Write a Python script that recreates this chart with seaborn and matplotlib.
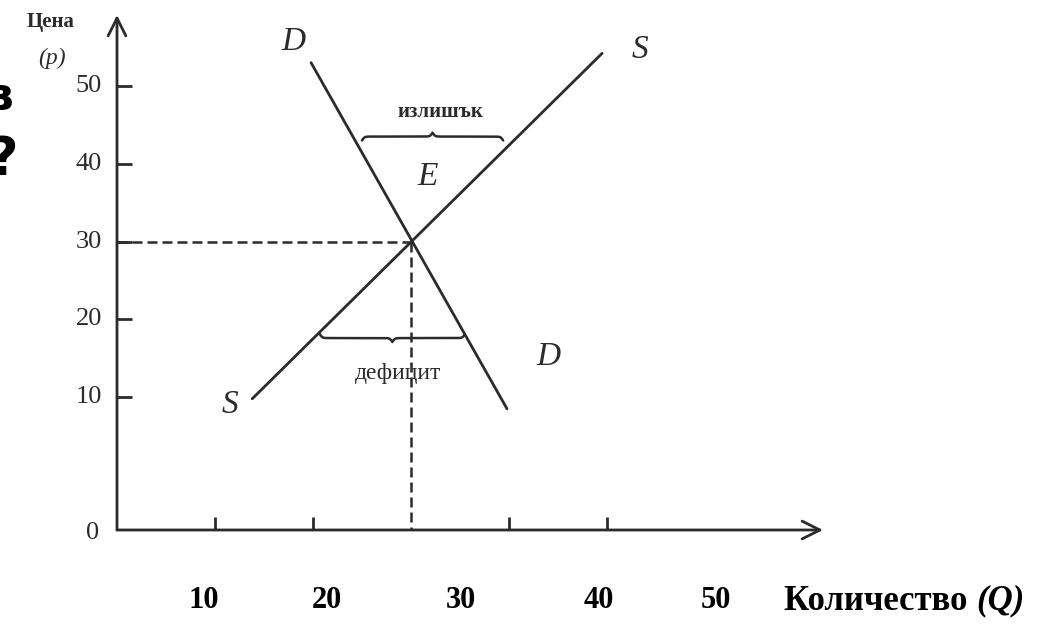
import numpy as np
import matplotlib
matplotlib.use("Agg")
import matplotlib.pyplot as plt
import seaborn as sns

# data (price p, quantity Q)
price_ticks = [10, 20, 30, 40, 50]
qty_ticks = [10, 20, 40, 50]
qty_labels = ["10", "20", "30", "40", "50"]
demand_q = [19.8, 39.8]
demand_p = [53.0, 8.5]
supply_q = [13.8, 49.5]
supply_p = [9.8, 54.2]
eq_q = 30
eq_p = 30
surplus_q = [25.0, 39.4]
surplus_p = 43.5
deficit_q = [20.7, 35.5]
deficit_p = 17.6

INK = "#2b2b2b"

# pixel <-> data mapping of the scanned picture
X0_PX, PX_PER_Q = 117, 9.8
Y0_PX, PX_PER_P = 475, 7.78
W, H = 1046, 635


def qx(px):
    return (px - X0_PX) / PX_PER_Q


def py(py_):
    return (Y0_PX - py_) / PX_PER_P


def brace(ax, q0, q1, p, h, up=True, beta=8.0):
    q = np.linspace(q0, q1, 401)
    half = q[:201]
    yh = 1 / (1 + np.exp(-beta * (half - half[0]))) + 1 / (1 + np.exp(-beta * (half - half[-1])))
    y = np.concatenate((yh, yh[-2::-1])) - 1.0
    sign = 1 if up else -1
    ax.plot(q, p + sign * y * h, color=INK, lw=1.8, solid_capstyle="round")


sns.set_theme(style="white")
plt.rcParams["font.family"] = ["Liberation Serif", "DejaVu Serif"]

fig = plt.figure(figsize=(W / 100, H / 100), dpi=100)
ax = fig.add_axes([0, 0, 1, 1])
ax.set_xlim(qx(0), qx(W))
ax.set_ylim(py(H), py(0))
ax.axis("off")

axis_p = py(530)
top_p = py(15)
right_q = qx(823)

# axes with open arrow heads
arrow = dict(arrowstyle="->", lw=2, color=INK, mutation_scale=32, shrinkA=0, shrinkB=0)
ax.annotate("", xy=(0, top_p), xytext=(0, axis_p), arrowprops=arrow)
ax.annotate("", xy=(right_q, axis_p), xytext=(0, axis_p), arrowprops=arrow)

# tick marks
ax.hlines(price_ticks, 0, 1.5, color=INK, lw=2)
ax.vlines(qty_ticks, axis_p, axis_p + 1.7, color=INK, lw=2)

for p in price_ticks:
    ax.text(qx(102), p, str(p), ha="right", va="center", fontsize=19, color=INK)
ax.text(qx(93), py(533), "0", ha="center", va="center", fontsize=19, color=INK)

# supply and demand
sns.lineplot(x=demand_q, y=demand_p, ax=ax, color=INK, lw=2, sort=False)
sns.lineplot(x=supply_q, y=supply_p, ax=ax, color=INK, lw=2, sort=False)

# equilibrium guides
dash = (0, (4, 2))
ax.plot([0, eq_q], [eq_p, eq_p], color=INK, lw=1.8, ls=dash)
ax.plot([eq_q, eq_q], [eq_p, axis_p], color=INK, lw=1.8, ls=dash)

# surplus / deficit braces
brace(ax, surplus_q[0], surplus_q[1], surplus_p, 1.0, up=True)
brace(ax, deficit_q[0], deficit_q[1], deficit_p, 1.0, up=False)
ax.text(qx(440), py(112), "излишък", ha="center", va="center",
        fontsize=15, fontweight="bold", color=INK)
ax.text(qx(398), py(373), "дефицит", ha="center", va="center",
        fontsize=17, color=INK)

# curve letters
lab = dict(fontsize=24, fontstyle="italic", color=INK, ha="center", va="center")
ax.text(qx(293), py(42), "D", **lab)
ax.text(qx(548), py(357), "D", **lab)
ax.text(qx(640), py(50), "S", **lab)
ax.text(qx(230), py(405), "S", **lab)
ax.text(qx(428), py(177), "E", **lab)

# axis titles
ax.text(qx(51), py(22), "Цена", ha="center", va="center", fontsize=15,
        fontweight="bold", color=INK)
ax.text(qx(52), py(58), "(p)", ha="center", va="center", fontsize=17,
        fontstyle="italic", color=INK)

label_px = [204, 327, 461, 599, 716]
for x, s in zip(label_px, qty_labels):
    ax.text(qx(x), py(601), s, ha="center", va="center", fontsize=22,
            fontweight="bold", color="black")

qlab = ax.text(qx(784), py(601), "Количество ", ha="left", va="center", fontsize=25,
               fontweight="bold", color="black")
fig.canvas.draw()
x_end = qlab.get_window_extent().x1
ax.text(qx(x_end), py(601), "(Q)", ha="left", va="center", fontsize=25,
        fontweight="bold", fontstyle="italic", color="black")

# clipped glyphs at the left edge of the scan
ax.text(qx(14), py(98), "в", ha="right", va="center", fontsize=34,
        fontweight="bold", family="DejaVu Sans", color="black")
ax.text(qx(18), py(160), "?", ha="right", va="center", fontsize=38,
        fontweight="bold", family="DejaVu Sans", color="black")

fig.savefig("out.png", dpi=100)
plt.close(fig)
